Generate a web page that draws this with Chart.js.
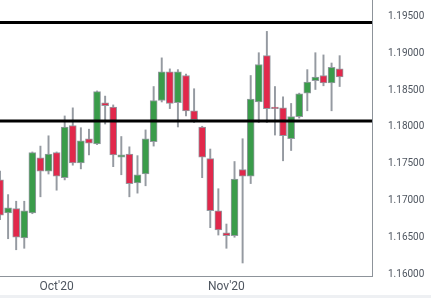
<!DOCTYPE html>
<html>
<head>
<meta charset="utf-8">
<script src="https://cdn.jsdelivr.net/npm/chart.js@4/dist/chart.umd.min.js"></script>
<style>
    html, body { margin: 0; padding: 0; background: #eef0f3; }
    #wrap { width: 431px; height: 295px; background: #ffffff; }
    canvas { display: block; }
</style>
</head>
<body>
<div id="wrap"><canvas id="priceChart" width="431" height="295"></canvas></div>
<script>
// daily candles, left to right (last 4 slots are empty space on the right)
const tickLabels = ['', '', '', '', '', '', '', "Oct'20", '', '', '', '', '', '', '', '', '', '', '', '', '', '', '', '', '', '', '', '',
    "Nov'20", '', '', '', '', '', '', '', '', '', '', '', '', '', '', '', '', '', ''];
const opens  = [1.1728, 1.1683, 1.1689, 1.1649, 1.1683, 1.1758, 1.1740, 1.1765, 1.1731, 1.1802, 1.1751, 1.1784, 1.1777, 1.1833, 1.1827,
    1.1759, 1.1763, 1.1724, 1.1736, 1.1780, 1.1836, 1.1875, 1.1833, 1.1870, 1.1822, 1.1800, 1.1757, 1.1686, 1.1656, 1.1652,
    1.1742, 1.1733, 1.1834, 1.1897, 1.1827, 1.1826, 1.1784, 1.1814, 1.1846, 1.1863, 1.1870, 1.1860, 1.1879];
const highs  = [1.1740, 1.1708, 1.1699, 1.1699, 1.1766, 1.1774, 1.1788, 1.1766, 1.1815, 1.1826, 1.1799, 1.1797, 1.1849, 1.1842, 1.1830,
    1.1787, 1.1773, 1.1761, 1.1796, 1.1855, 1.1894, 1.1879, 1.1878, 1.1872, 1.1852, 1.1801, 1.1770, 1.1716, 1.1668, 1.1753,
    1.1784, 1.1870, 1.1901, 1.1930, 1.1855, 1.1841, 1.1832, 1.1846, 1.1878, 1.1901, 1.1898, 1.1887, 1.1897];
const lows   = [1.1674, 1.1648, 1.1633, 1.1635, 1.1682, 1.1705, 1.1736, 1.1714, 1.1728, 1.1748, 1.1743, 1.1762, 1.1776, 1.1804, 1.1746,
    1.1735, 1.1705, 1.1710, 1.1720, 1.1774, 1.1834, 1.1825, 1.1800, 1.1815, 1.1806, 1.1731, 1.1663, 1.1653, 1.1635, 1.1650,
    1.1615, 1.1723, 1.1806, 1.1806, 1.1789, 1.1754, 1.1768, 1.1812, 1.1822, 1.1851, 1.1856, 1.1822, 1.1855];
const closes = [1.1680, 1.1690, 1.1650, 1.1686, 1.1765, 1.1740, 1.1763, 1.1733, 1.1800, 1.1751, 1.1781, 1.1778, 1.1848, 1.1829, 1.1762,
    1.1762, 1.1723, 1.1735, 1.1784, 1.1836, 1.1875, 1.1832, 1.1875, 1.1822, 1.1810, 1.1759, 1.1686, 1.1660, 1.1652, 1.1729,
    1.1733, 1.1838, 1.1885, 1.1825, 1.1825, 1.1788, 1.1814, 1.1845, 1.1861, 1.1868, 1.1860, 1.1881, 1.1868];
const levels = [1.1942, 1.1808];
const yTicks = [1.160, 1.165, 1.170, 1.175, 1.180, 1.185, 1.190, 1.195];

document.addEventListener('DOMContentLoaded', function () {
    const up = '#3a9c4a';
    const down = '#e1284b';
    const edge = '#959aa1';
    const textColor = '#4f5660';

    const levelLines = {
        id: 'levelLines',
        afterDatasetsDraw(chart) {
            const ctx = chart.ctx;
            const area = chart.chartArea;
            const y = chart.scales.y;
            ctx.save();
            ctx.strokeStyle = '#000000';
            ctx.lineWidth = 3;
            levels.forEach(level => {
                const py = y.getPixelForValue(level);
                ctx.beginPath();
                ctx.moveTo(area.left, py);
                ctx.lineTo(area.right, py);
                ctx.stroke();
            });
            ctx.restore();
        }
    };

    new Chart(document.getElementById('priceChart').getContext('2d'), {
        type: 'bar',
        data: {
            labels: tickLabels,
            datasets: [{
                label: 'body',
                data: opens.map((o, i) => [o, closes[i]]),
                backgroundColor: opens.map((o, i) => closes[i] >= o ? up : down),
                borderColor: edge,
                borderWidth: 1,
                borderSkipped: false,
                barThickness: 7,
                grouped: false,
                order: 0
            }, {
                label: 'wick',
                data: lows.map((l, i) => [l, highs[i]]),
                backgroundColor: edge,
                borderWidth: 0,
                barThickness: 1.3,
                grouped: false,
                order: 1
            }]
        },
        options: {
            responsive: false,
            animation: false,
            layout: { padding: 0 },
            plugins: {
                legend: { display: false },
                tooltip: { enabled: false }
            },
            scales: {
                x: {
                    type: 'category',
                    offset: false,
                    grid: { display: false, drawTicks: false },
                    border: { color: '#8d939a', width: 1 },
                    ticks: {
                        autoSkip: false,
                        maxRotation: 0,
                        padding: 4,
                        color: textColor,
                        font: { family: 'Roboto', size: 12 }
                    },
                    afterFit(scale) {
                        scale.height = 19;
                        scale.paddingLeft = 0;
                        scale.paddingRight = 0;
                    }
                },
                y: {
                    position: 'right',
                    min: 1.15973,
                    max: 1.19727,
                    grid: { display: false, drawTicks: false },
                    border: { color: '#8d939a', width: 1 },
                    afterBuildTicks(axis) {
                        axis.ticks = yTicks.map(v => ({ value: v }));
                    },
                    ticks: {
                        padding: 16,
                        color: textColor,
                        font: { family: 'Roboto', size: 10 },
                        callback: value => Number(value).toFixed(5)
                    },
                    afterFit(scale) {
                        scale.width = 59;
                        scale.paddingTop = 0;
                        scale.paddingBottom = 0;
                    }
                }
            }
        },
        plugins: [levelLines]
    });
});
</script>
</body>
</html>
